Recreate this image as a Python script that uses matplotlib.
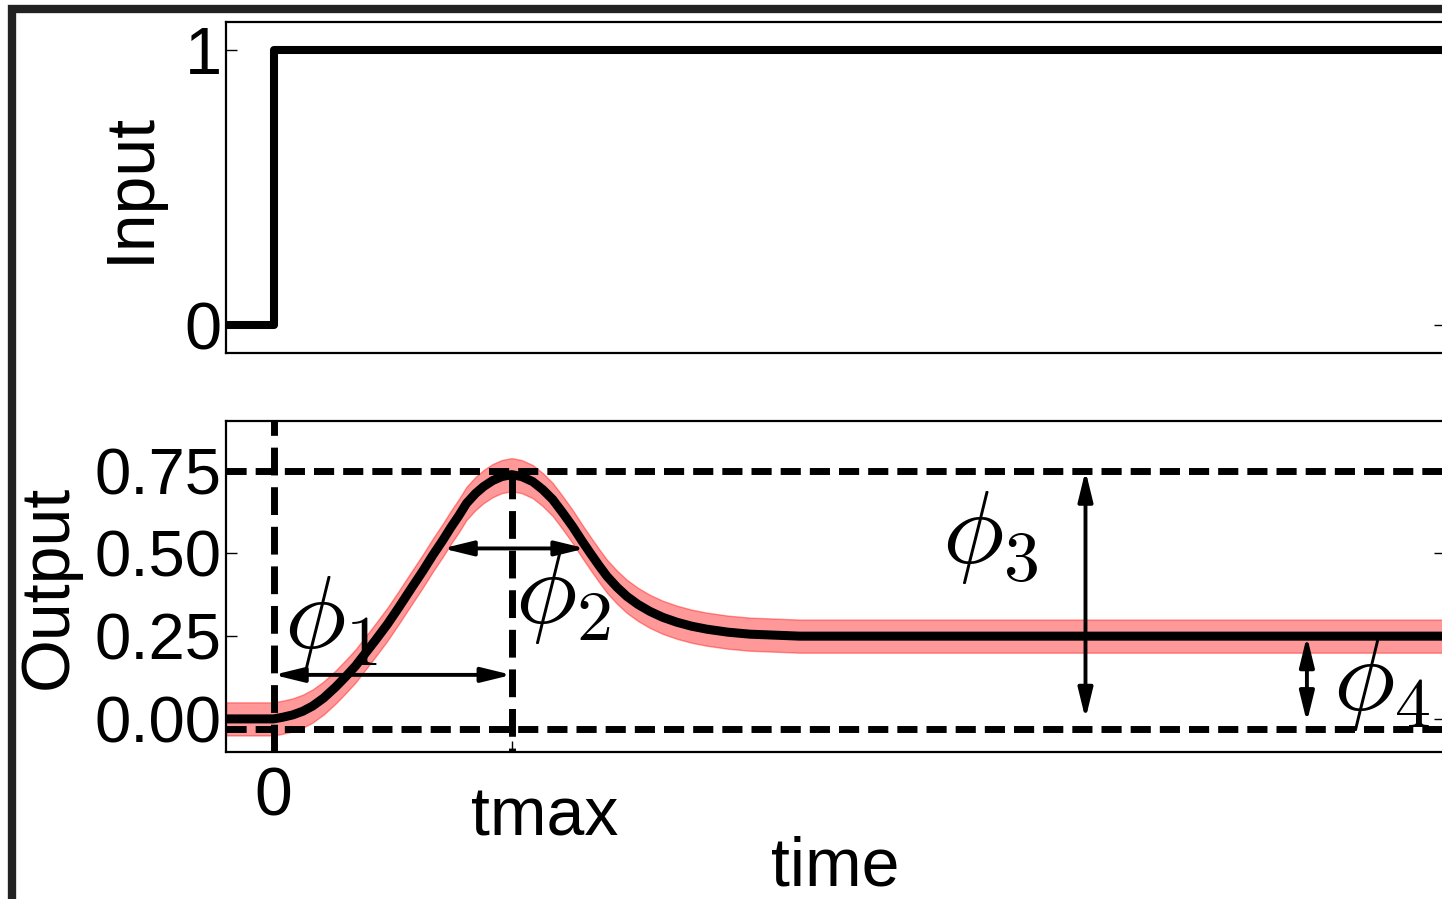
import matplotlib
matplotlib.use("Agg")
import matplotlib.pyplot as plt
from matplotlib.patches import FancyArrowPatch, Rectangle

# step input
time_step = [-1.0, 0.0, 0.0, 24.6]
input_level = [0, 0, 1, 1]

# response curve read along the time axis
time_out = [-1.0, 0.0, 0.19, 0.40, 0.61, 0.82, 1.05, 1.30, 1.51, 1.72, 1.93,
            2.14, 2.39, 2.63, 2.88, 3.13, 3.34, 3.55, 3.72, 3.89, 4.05, 4.24,
            4.41, 4.60, 4.79, 5.00, 5.21, 5.44, 5.65, 5.86, 6.07, 6.28, 6.47,
            6.64, 6.83, 7.00, 7.21, 7.42, 7.65, 7.90, 8.17, 8.47, 8.78, 9.10,
            9.54, 10.0, 10.53, 11.05, 24.6]
output_mean = [0.0, 0.0, 0.005, 0.012, 0.023, 0.039, 0.063, 0.096, 0.127,
               0.160, 0.199, 0.238, 0.286, 0.337, 0.392, 0.446, 0.494, 0.539,
               0.578, 0.614, 0.651, 0.681, 0.702, 0.720, 0.732, 0.738, 0.732,
               0.717, 0.693, 0.663, 0.623, 0.581, 0.539, 0.503, 0.464, 0.431,
               0.398, 0.370, 0.346, 0.325, 0.307, 0.292, 0.280, 0.271, 0.262,
               0.256, 0.253, 0.250, 0.250]
output_spread = 0.05

t_max = 5.0
peak_level = 0.75
base_level = -0.03

# feature markers: label, start, end
phi_labels = [r'$\phi_1$', r'$\phi_2$', r'$\phi_3$', r'$\phi_4$']
phi_starts = [(0.0, 0.133), (3.55, 0.515), (17.05, 0.75), (21.7, 0.25)]
phi_ends = [(t_max, 0.133), (6.55, 0.515), (17.05, 0.0), (21.7, -0.01)]
phi_text_pos = [(1.2, 0.292), (6.07, 0.367), (15.04, 0.548), (23.26, 0.105)]

y_ticks = [0.0, 0.25, 0.5, 0.75]
y_ticklabels = ['0.00', '0.25', '0.50', '0.75']

plt.rcParams['font.family'] = ['Liberation Sans', 'DejaVu Sans']
plt.rcParams['mathtext.fontset'] = 'cm'

W, H = 1442, 899
fig = plt.figure(figsize=(W / 100, H / 100), dpi=100)
ax1 = fig.add_axes([226 / W, (H - 353) / H, 1219 / W, 331 / H])
ax2 = fig.add_axes([226 / W, (H - 752) / H, 1219 / W, 331 / H])

xlim = (-1.0, 24.6)

# input panel
ax1.plot(time_step, input_level, color='black', lw=5.8, solid_joinstyle='round',
         solid_capstyle='butt')
ax1.set_xlim(*xlim)
ax1.set_ylim(-0.1, 1.1)
ax1.set_xticks([])
ax1.set_yticks([0, 1])
ax1.set_yticklabels(['0', '1'], fontsize=48)
ax1.set_ylabel('Input', fontsize=49)
ax1.yaxis.set_label_coords(-0.052, 0.5)

# output panel
ax2.fill_between(time_out, [v - output_spread for v in output_mean],
                 [v + output_spread for v in output_mean],
                 color='red', alpha=0.4, lw=1, zorder=1)
ax2.plot(time_out, output_mean, color='black', lw=6.5, zorder=2,
         solid_joinstyle='round')

h_dash = (0, (2.9, 1.3))
v_dash = (0, (4.0, 1.7))
ax2.axhline(peak_level, color='black', lw=5, ls=h_dash, zorder=3)
ax2.axhline(base_level, color='black', lw=5, ls=h_dash, zorder=3)
ax2.axvline(0.0, color='black', lw=5, ls=v_dash, zorder=3)
ax2.plot([t_max, t_max], [peak_level, -0.1], color='black', lw=5, ls=v_dash,
         zorder=3)

for lab, p0, p1, tp in zip(phi_labels, phi_starts, phi_ends, phi_text_pos):
    arr = FancyArrowPatch(p0, p1,
                          arrowstyle='<|-|>,head_length=0.9,head_width=0.22',
                          mutation_scale=20, lw=2.8, color='black', zorder=4,
                          shrinkA=0, shrinkB=0)
    ax2.add_patch(arr)
    ax2.text(tp[0], tp[1], lab, fontsize=74, ha='center', va='center', zorder=5)

ax2.set_xlim(*xlim)
ax2.set_ylim(-0.1, 0.9)
ax2.set_yticks(y_ticks)
ax2.set_yticklabels(y_ticklabels, fontsize=47)
ax2.set_xticks([0, t_max])
ax2.set_xticklabels(['0', ''], fontsize=49)
ax2.text(5.7, -0.1, 'tmax', fontsize=49, ha='center', va='top',
         transform=ax2.get_xaxis_transform())
ax2.set_ylabel('Output', fontsize=49)
ax2.yaxis.set_label_coords(-0.119, 0.5)
ax2.set_xlabel('time', fontsize=49)
ax2.xaxis.set_label_coords(0.5, -0.252)

for ax in (ax1, ax2):
    for s in ax.spines.values():
        s.set_linewidth(1.6)
    ax.tick_params(direction='in', length=8, width=1.0, pad=3,
                   left=True, right=True, top=False, bottom=True)
ax2.tick_params(axis='x', pad=10)

# dark frame around the figure
fig.patches.append(Rectangle((12 / W, -2 / H), 1.2, (H - 7) / H,
                             transform=fig.transFigure, fill=False,
                             edgecolor='#222222', lw=6, zorder=10))

fig.savefig('out.png', dpi=100)
